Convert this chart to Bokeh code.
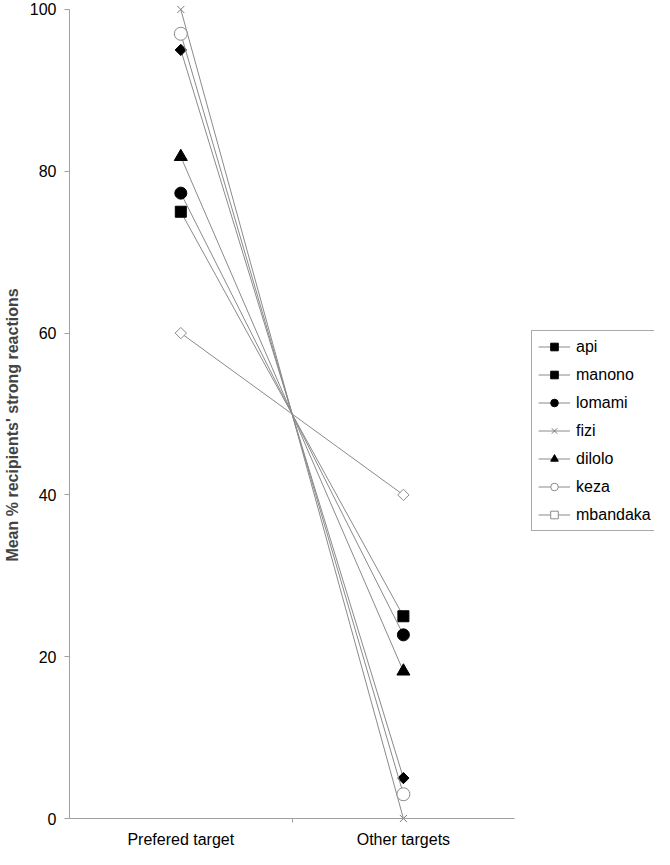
from bokeh.plotting import figure
from bokeh.models import FixedTicker, Legend, LegendItem
from bokeh.embed import file_html
from bokeh.resources import INLINE
import math

categories = ["Prefered target", "Other targets"]
series = ["api", "manono", "lomami", "fizi", "dilolo", "keza", "mbandaka"]
prefered = [95.0, 75.0, 77.3, 100.0, 81.8, 97.0, 60.0]
other = [5.0, 25.0, 22.7, 0.0, 18.2, 3.0, 40.0]
y_ticks = [0, 20, 40, 60, 80, 100]

markers = ["square", "square", "circle", "x", "triangle", "circle", "square"]
angles = [math.pi / 4, 0, 0, 0, 0, 0, math.pi / 4]
sizes = [8, 11, 12, 10, 13, 13, 8]
fills = ["black", "black", "black", None, "black", "white", "white"]
outlines = ["black", "black", "black", "#7a7a7a", "black", "#8a8a8a", "#8a8a8a"]

xpos = [i + 0.5 for i in range(len(categories))]
n = len(categories)

p = figure(width=654, height=849, output_backend="svg", toolbar_location=None,
           x_range=(0, n * 1.314), y_range=(-3.83, 101.11),
           min_border_left=64, min_border_right=0, min_border_top=0, min_border_bottom=0)
p.outline_line_color = None
p.xgrid.grid_line_color = None
p.ygrid.grid_line_color = None
p.background_fill_color = "white"
p.border_fill_color = "white"

items = []
for i, name in enumerate(series):
    ys = [prefered[i], other[i]]
    r_line = p.line(xpos, ys, line_color="#8a8a8a", line_width=1)
    r_sc = p.scatter(xpos, ys, marker=markers[i], size=sizes[i], angle=angles[i],
                     fill_color=fills[i], line_color=outlines[i], line_width=1)
    items.append(LegendItem(label=name, renderers=[r_line, r_sc]))

legend = Legend(items=items, location=(462, 318))
legend.label_text_font = "Liberation Sans"
legend.label_text_font_size = "16px"
legend.label_text_color = "black"
legend.border_line_color = "#555555"
legend.border_line_width = 1
legend.padding = 6
legend.glyph_width = 32
legend.glyph_height = 19
legend.label_height = 19
legend.spacing = 9
legend.label_standoff = 6
legend.background_fill_alpha = 1
p.add_layout(legend, "center")

# y axis
p.yaxis.ticker = FixedTicker(ticks=y_ticks)
p.yaxis.bounds = (0, 100)
p.yaxis.axis_label = "Mean % recipients' strong reactions"
p.yaxis.axis_label_text_font = "Liberation Sans"
p.yaxis.axis_label_text_font_style = "bold"
p.yaxis.axis_label_text_font_size = "16px"
p.yaxis.axis_label_standoff = 6
p.yaxis.major_label_text_font = "Liberation Sans"
p.yaxis.major_label_text_font_size = "16px"
p.yaxis.major_label_text_color = "black"
p.yaxis.axis_line_color = "#a0a0a0"
p.yaxis.major_tick_line_color = "#a0a0a0"
p.yaxis.major_tick_out = 5
p.yaxis.major_tick_in = 0
p.yaxis.minor_tick_line_color = None
p.yaxis.major_label_standoff = 8

# x axis (drawn at y = 0 inside the frame)
p.xaxis.fixed_location = 0
p.xaxis.bounds = (0, n)
p.xaxis.ticker = FixedTicker(ticks=xpos, minor_ticks=[1])
p.xaxis.major_label_overrides = {xpos[i]: c for i, c in enumerate(categories)}
p.xaxis.major_label_text_font = "Liberation Sans"
p.xaxis.major_label_text_font_size = "16px"
p.xaxis.major_label_text_color = "black"
p.xaxis.axis_line_color = "#a0a0a0"
p.xaxis.major_tick_line_color = None
p.xaxis.minor_tick_line_color = "#a0a0a0"
p.xaxis.minor_tick_out = 4
p.xaxis.minor_tick_in = 0
p.xaxis.major_label_standoff = 6

open("out.html", "w").write(file_html(p, INLINE))
